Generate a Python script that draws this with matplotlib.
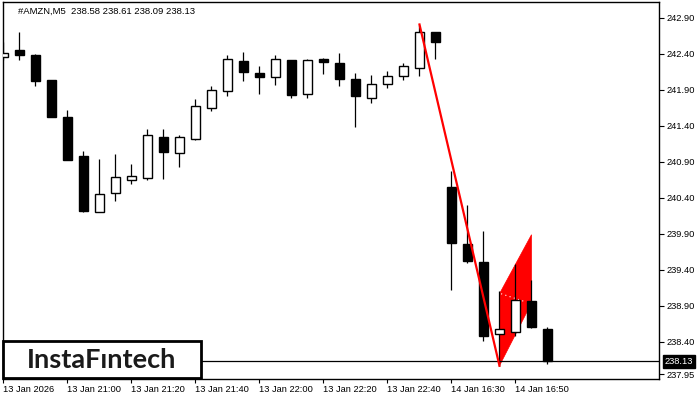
import matplotlib.pyplot as plt
from matplotlib.patches import Rectangle, Polygon

# ==========================================================
# DATA  (AMZN, M5)
# ==========================================================

opens = [242.36, 242.46, 242.39, 242.04, 241.52, 240.98, 240.21, 240.47, 240.65, 240.68,
         241.25, 241.03, 241.22, 241.65, 241.88, 242.30, 242.13, 242.08, 242.31, 241.84,
         242.33, 242.28, 242.05, 241.79, 241.99, 242.09, 242.20, 242.70, 240.55, 239.76,
         239.51, 238.51, 238.54, 238.97, 238.58]

highs = [242.56, 242.71, 242.40, 242.04, 241.62, 241.05, 240.94, 241.01, 240.87, 241.36,
         241.36, 241.28, 241.78, 241.95, 242.39, 242.43, 242.23, 242.39, 242.31, 242.33,
         242.34, 242.42, 242.14, 242.11, 242.16, 242.28, 242.80, 242.70, 240.77, 240.30,
         239.94, 239.11, 239.49, 239.26, 238.61]

lows = [242.31, 242.32, 241.96, 241.52, 240.93, 240.20, 240.20, 240.36, 240.59, 240.65,
        240.66, 240.83, 241.21, 241.61, 241.81, 242.02, 241.84, 241.97, 241.79, 241.79,
        242.12, 241.95, 241.39, 241.72, 241.93, 242.04, 242.10, 242.33, 239.12, 239.50,
        238.42, 238.07, 238.49, 238.60, 238.09]

closes = [242.42, 242.39, 242.02, 241.53, 240.93, 240.22, 240.46, 240.69, 240.71, 241.27,
          241.04, 241.25, 241.68, 241.90, 242.33, 242.15, 242.08, 242.33, 241.83, 242.31,
          242.29, 242.05, 241.81, 241.98, 242.09, 242.23, 242.70, 242.56, 239.78, 239.53,
          238.49, 238.58, 238.99, 238.61, 238.13]

x_labels = ["13 Jan 2026", "13 Jan 21:00", "13 Jan 21:20", "13 Jan 21:40",
            "13 Jan 22:00", "13 Jan 22:20", "13 Jan 22:40", "14 Jan 16:30",
            "14 Jan 16:50"]

y_ticks = [242.90, 242.40, 241.90, 241.40, 240.90, 240.40, 239.90, 239.40,
           238.90, 238.40, 237.95]

last_price = 238.13

# pole of the bearish flag (bar index, price)
pole_x = [26, 31]
pole_y = [242.81, 238.07]

# flag body
flag_x = [31, 31, 33, 33]
flag_y = [238.07, 239.07, 239.89, 238.94]

title = "#AMZN,M5  238.58 238.61 238.09 238.13"

# ==========================================================
# FIGURE
# ==========================================================

fig = plt.figure(figsize=(7, 4), dpi=100)

ax = fig.add_axes([2.7/700, 1-379/400, (659-2.7)/700, (379-2.3)/400])

font = "Liberation Sans"

# -------------------------------------------------
# Flag
# -------------------------------------------------

ax.add_patch(Polygon(list(zip(flag_x, flag_y)), closed=True,
                     facecolor="red", edgecolor="red", lw=0.5, zorder=1))

ax.plot([31.1, 32.6], [239.07, 238.96], color="white", lw=0.8,
        linestyle=(0, (1, 3)), zorder=1.5)

# -------------------------------------------------
# Candles
# -------------------------------------------------

body_w = 0.62

for i in range(len(opens)):

    o, h, l, c = opens[i], highs[i], lows[i], closes[i]

    ax.plot([i, i], [l, h], color="black", lw=0.9, zorder=2,
            solid_capstyle="butt")

    bottom = min(o, c)
    height = max(abs(c - o), 0.01)

    face = "white" if c >= o else "black"

    ax.add_patch(Rectangle((i - body_w/2, bottom), body_w, height,
                           facecolor=face, edgecolor="black", lw=1.0,
                           zorder=3))

# -------------------------------------------------
# Pole + last price line
# -------------------------------------------------

ax.plot(pole_x, pole_y, color="red", lw=1.6, zorder=4)

ax.axhline(last_price, color="black", lw=0.9, zorder=1.2)

# ==========================================================
# AXES
# ==========================================================

ax.set_xlim(-0.05, 40.97)
ax.set_ylim(237.886, 243.118)

ax.set_xticks(range(0, 4*len(x_labels), 4))
ax.set_xticklabels(x_labels, fontsize=6.7, family=font, ha="left")

ax.yaxis.tick_right()
ax.set_yticks(y_ticks)
ax.set_yticklabels([f"{v:.2f}" for v in y_ticks], fontsize=6.7, family=font)

ax.tick_params(axis="x", direction="out", length=3, width=0.8, pad=1)
ax.tick_params(axis="y", direction="out", length=3.5, width=0.8, pad=2)

for s in ax.spines.values():
    s.set_linewidth(1.0)
    s.set_color("black")

# last price tag on the right scale
ax.text(1.0085, last_price, f"{last_price:.2f}",
        transform=ax.get_yaxis_transform(),
        fontsize=6.7, family=font, color="white",
        ha="left", va="center",
        bbox=dict(boxstyle="square,pad=0.18", fc="black", ec="black"))

# title inside chart
ax.text(18/700, 1-11/400, title, transform=fig.transFigure,
        fontsize=6.8, family=font, ha="left", va="center")

# -------------------------------------------------
# Logo box
# -------------------------------------------------

fig.patches.append(Rectangle((3/700, 1-378/400), 198/700, 37/400,
                             transform=fig.transFigure,
                             facecolor="white", edgecolor="black",
                             lw=2.0, zorder=10))

fig.text(102/700, 1-368/400, "InstaF\u0131ntech", fontsize=19.5,
         family="Lato", fontweight="bold", color="#1a1a1a",
         ha="center", va="baseline", zorder=11)

fig.savefig("out.png", dpi=100)
